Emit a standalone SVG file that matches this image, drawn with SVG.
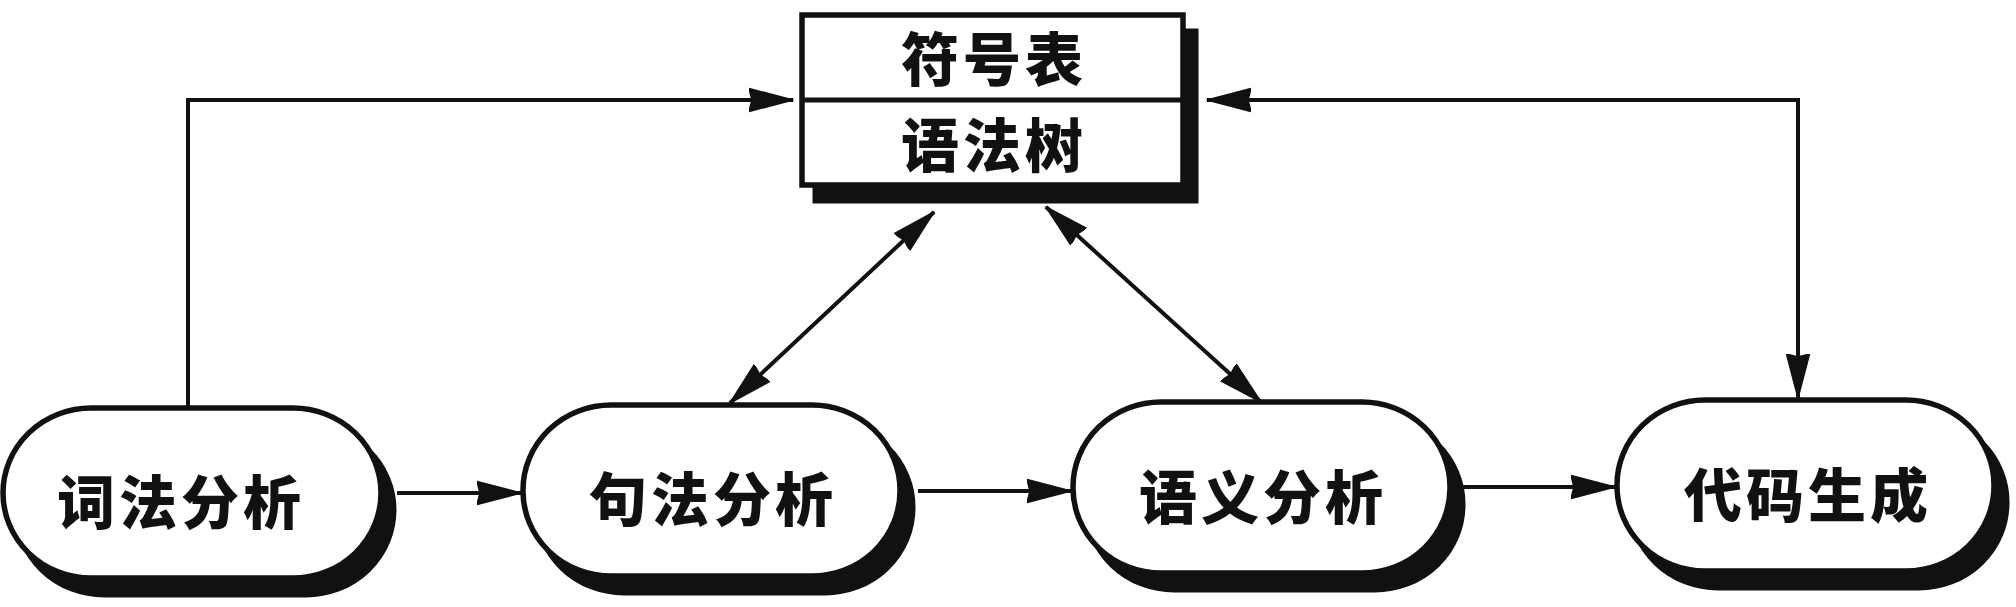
<svg xmlns="http://www.w3.org/2000/svg" width="2016" height="607" viewBox="0 0 2016 607">
<style>
.shadow{fill:#111;stroke:#111;stroke-width:5}
.shape{fill:#fff;stroke:#111;stroke-width:5.5}
.lbl{font-family:"Noto Sans CJK SC","Noto Sans",sans-serif;font-weight:900;font-size:58px;letter-spacing:4px;fill:#111;text-anchor:middle;dominant-baseline:central}
.conn{fill:none;stroke:#111;stroke-width:4}
</style>
<defs>
<marker id="ah" markerUnits="userSpaceOnUse" markerWidth="46" markerHeight="26" refX="44" refY="13" orient="auto-start-reverse" viewBox="0 0 46 26">
<path d="M0,1.5 L44,13 L0,24.5 L3,13 Z" fill="#111" stroke="#111" stroke-width="1.5" stroke-linejoin="round"/>
</marker>
</defs>
<rect width="2016" height="607" fill="#fff"/>
<g id="connectors">
<path class="conn" d="M188,408 V100 H793" marker-end="url(#ah)"/>
<path class="conn" d="M1207,100 H1798 V398" marker-start="url(#ah)" marker-end="url(#ah)"/>
<path class="conn" d="M934,212 L730,403" marker-start="url(#ah)" marker-end="url(#ah)"/>
<path class="conn" d="M1046,207 L1261,402" marker-start="url(#ah)" marker-end="url(#ah)"/>
<path class="conn" d="M397,493 H521" marker-end="url(#ah)"/>
<path class="conn" d="M918,491 H1071" marker-end="url(#ah)"/>
<path class="conn" d="M1463,487 H1615" marker-end="url(#ah)"/>
</g>
<g id="table">
<rect class="shadow" x="815" y="31" width="381" height="170"/>
<rect class="shape" x="802" y="15" width="381" height="170"/>
<line x1="802" y1="100" x2="1183" y2="100" stroke="#111" stroke-width="5"/>
<text class="lbl" x="994" y="56">符号表</text>
<text class="lbl" x="994" y="142">语法树</text>
</g>
<g id="lexical">
<rect class="shadow" x="16" y="425" width="378" height="170" rx="88" ry="85"/>
<rect class="shape" x="3" y="408" width="378" height="170" rx="88" ry="85"/>
<text class="lbl" x="181" y="499">词法分析</text>
</g>
<g id="syntax">
<rect class="shadow" x="536" y="422" width="377" height="171" rx="88" ry="85"/>
<rect class="shape" x="523" y="405" width="377" height="171" rx="88" ry="85"/>
<text class="lbl" x="713" y="496">句法分析</text>
</g>
<g id="semantic">
<rect class="shadow" x="1086" y="419" width="377" height="171" rx="88" ry="85"/>
<rect class="shape" x="1073" y="402" width="377" height="171" rx="88" ry="85"/>
<text class="lbl" x="1263" y="494">语义分析</text>
</g>
<g id="codegen">
<rect class="shadow" x="1630" y="417" width="377" height="171" rx="88" ry="85"/>
<rect class="shape" x="1617" y="400" width="377" height="171" rx="88" ry="85"/>
<text class="lbl" x="1808" y="492">代码生成</text>
</g>
</svg>
